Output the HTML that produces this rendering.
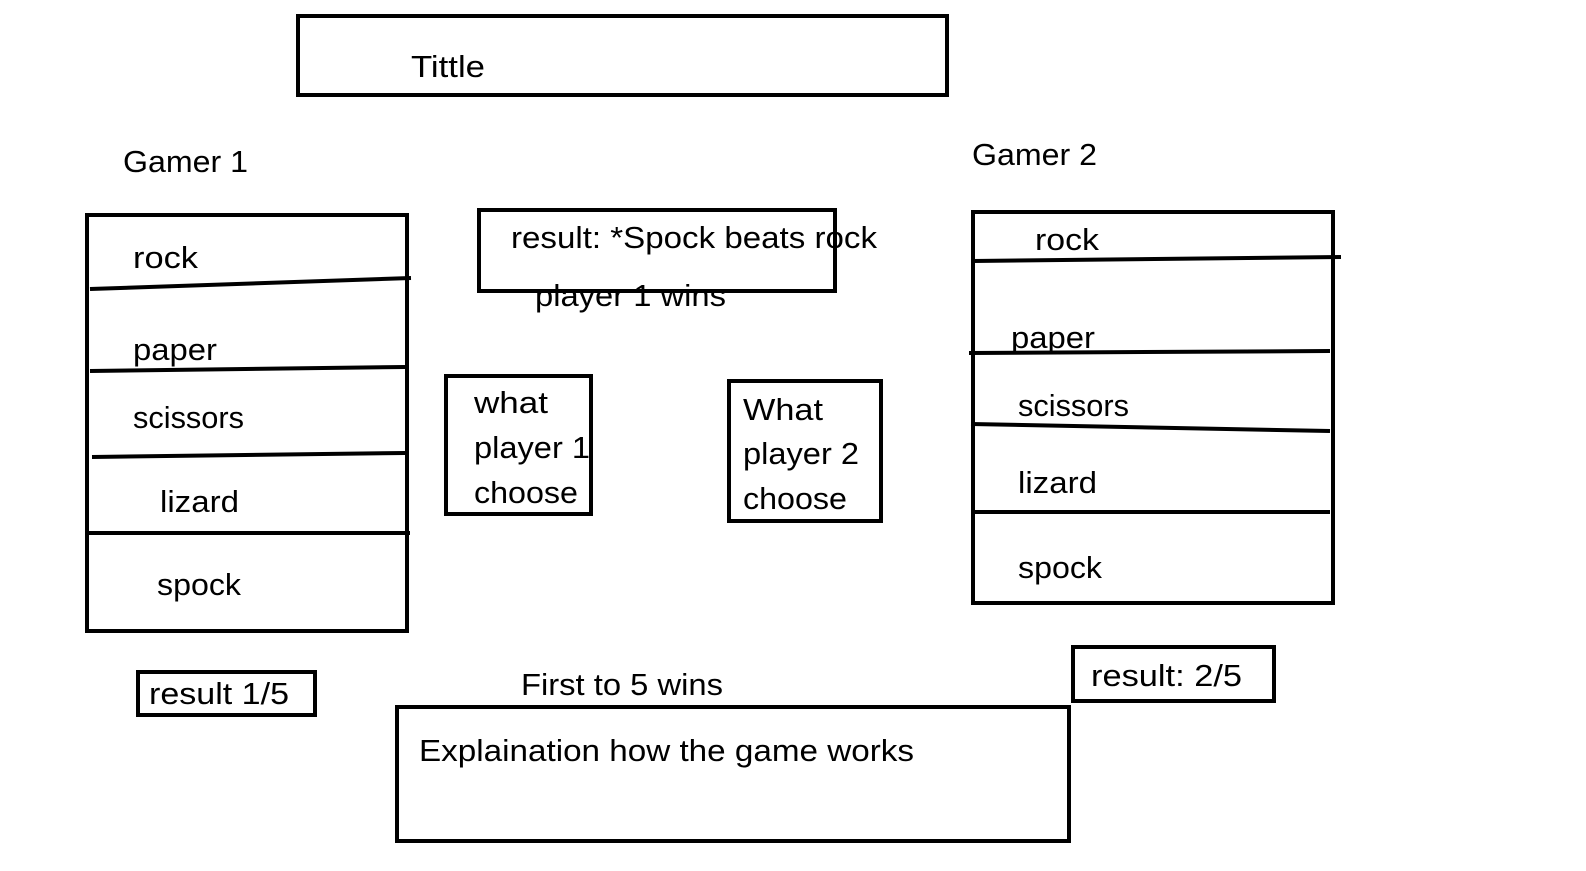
<!DOCTYPE html>
<html><head><meta charset="utf-8"><style>
html,body{margin:0;padding:0;background:#fff;}
svg{display:block;}
text{font-family:"Liberation Sans",sans-serif;font-size:31px;fill:#000;}
</style></head><body>
<svg width="1586" height="871" viewBox="0 0 1586 871" xmlns="http://www.w3.org/2000/svg">
<g fill="none" stroke="#000" stroke-width="4">
<rect x="298" y="16" width="649" height="79"/>
<rect x="87" y="215" width="320" height="416"/>
<path d="M90 289 L411 278"/>
<path d="M90 371 L405 367"/>
<path d="M92 457 L405 453"/>
<path d="M85 533 L410 533"/>
<rect x="479" y="210" width="356" height="81"/>
<rect x="446" y="376" width="145" height="138"/>
<rect x="729" y="381" width="152" height="140"/>
<rect x="973" y="212" width="360" height="391"/>
<path d="M973 261 L1341 257"/>
<path d="M969 353 L1330 351"/>
<path d="M971 424 L1330 431"/>
<path d="M973 512 L1330 512"/>
<rect x="138" y="672" width="177" height="43"/>
<rect x="1073" y="647" width="201" height="54"/>
<rect x="397" y="707" width="672" height="134"/>
</g>
<g lengthAdjust="spacingAndGlyphs">
<text x="411" y="77" textLength="74" lengthAdjust="spacingAndGlyphs">Tittle</text>
<text x="123" y="172" textLength="125" lengthAdjust="spacingAndGlyphs">Gamer 1</text>
<text x="972" y="165" textLength="125" lengthAdjust="spacingAndGlyphs">Gamer 2</text>
<text x="133" y="268" textLength="65" lengthAdjust="spacingAndGlyphs">rock</text>
<text x="133" y="360" textLength="84" lengthAdjust="spacingAndGlyphs">paper</text>
<text x="133" y="428" textLength="111" lengthAdjust="spacingAndGlyphs">scissors</text>
<text x="160" y="512" textLength="79" lengthAdjust="spacingAndGlyphs">lizard</text>
<text x="157" y="595" textLength="84" lengthAdjust="spacingAndGlyphs">spock</text>
<text x="511" y="248" textLength="366" lengthAdjust="spacingAndGlyphs">result: *Spock beats rock</text>
<text x="535" y="306" textLength="191" lengthAdjust="spacingAndGlyphs">player 1 wins</text>
<text x="474" y="413" textLength="74" lengthAdjust="spacingAndGlyphs">what</text>
<text x="474" y="458" textLength="116" lengthAdjust="spacingAndGlyphs">player 1</text>
<text x="474" y="503" textLength="104" lengthAdjust="spacingAndGlyphs">choose</text>
<text x="743" y="420" textLength="80" lengthAdjust="spacingAndGlyphs">What</text>
<text x="743" y="464" textLength="116" lengthAdjust="spacingAndGlyphs">player 2</text>
<text x="743" y="509" textLength="104" lengthAdjust="spacingAndGlyphs">choose</text>
<text x="1035" y="250" textLength="64" lengthAdjust="spacingAndGlyphs">rock</text>
<text x="1011" y="348" textLength="84" lengthAdjust="spacingAndGlyphs">paper</text>
<text x="1018" y="416" textLength="111" lengthAdjust="spacingAndGlyphs">scissors</text>
<text x="1018" y="493" textLength="79" lengthAdjust="spacingAndGlyphs">lizard</text>
<text x="1018" y="578" textLength="84" lengthAdjust="spacingAndGlyphs">spock</text>
<text x="149" y="704" textLength="140" lengthAdjust="spacingAndGlyphs">result 1/5</text>
<text x="1091" y="686" textLength="151" lengthAdjust="spacingAndGlyphs">result: 2/5</text>
<text x="521" y="695" textLength="202" lengthAdjust="spacingAndGlyphs">First to 5 wins</text>
<text x="419" y="761" textLength="495" lengthAdjust="spacingAndGlyphs">Explaination how the game works</text>
</g>
</svg>
</body></html>
